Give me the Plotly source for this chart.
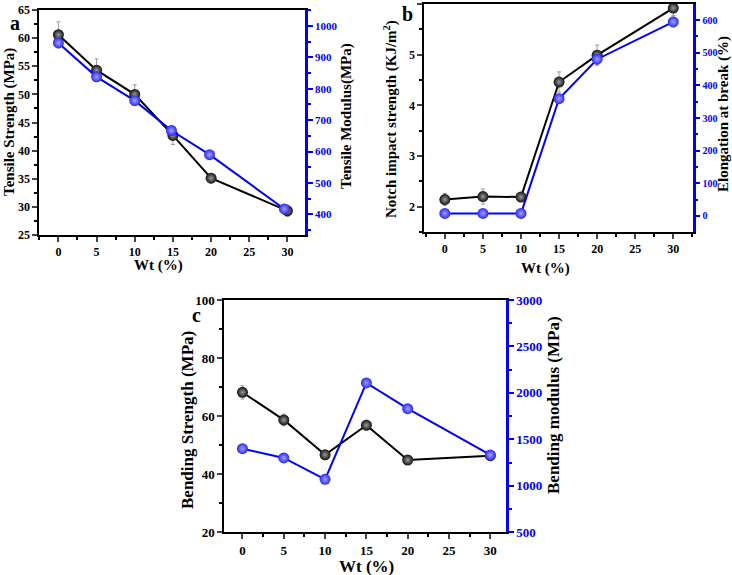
import plotly.graph_objects as go

W, H = 732, 575

# ---------------- data ----------------
wt = [0, 5, 10, 15, 20, 30]
wt_blue_a = [0, 5, 10, 14.8, 19.8, 29.6]

tensile_strength = [60.6, 54.3, 50.0, 42.7, 35.1, 29.3]
tensile_strength_err = [2.3, 2.0, 1.7, 1.6, 0.8, 1.0]
tensile_modulus = [946, 838, 762, 667, 590, 417]
tensile_modulus_err = [15, 15, 15, 12, 12, 10]

notch_impact = [2.14, 2.20, 2.19, 4.46, 4.99, 5.92]
notch_impact_err = [0.12, 0.15, 0.03, 0.20, 0.20, 0.15]
elongation = [8, 8, 8, 359, 480, 594]
elongation_err = [3, 3, 3, 10, 15, 15]

bending_strength = [68.2, 58.7, 46.7, 56.9, 44.9, 46.4]
bending_strength_err = [2.3, 2.0, 1.5, 1.7, 1.0, 1.5]
bending_modulus = [1400, 1300, 1070, 2107, 1830, 1332]
bending_modulus_err = [20, 20, 20, 20, 20, 20]

x_ticks = [0, 5, 10, 15, 20, 25, 30]

FONT = "Liberation Serif"
BLUE = "#0000ff"
BLACK = "#000000"
ERRC = "#9a9a9a"


def px(x):
    return x / W


def py(y):
    return 1 - y / H


fig = go.Figure()


def add_pair(xs_k, yk, ek, xs_b, yb, eb, xa, ya_l, ya_r):
    fig.add_trace(go.Scatter(
        x=xs_b, y=yb, mode="lines+markers", xaxis=xa, yaxis=ya_r,
        line=dict(color=BLUE, width=2),
        marker=dict(size=11, color="#2a2af0",
                    gradient=dict(type="radial", color="#a0a0ff"),
                    line=dict(width=0)),
        error_y=dict(type="data", array=eb, color=ERRC, thickness=1, width=2),
        showlegend=False))
    fig.add_trace(go.Scatter(
        x=xs_k, y=yk, mode="lines+markers", xaxis=xa, yaxis=ya_l,
        line=dict(color=BLACK, width=2),
        marker=dict(size=11, color="#111111",
                    gradient=dict(type="radial", color="#9a9a9a"),
                    line=dict(width=0)),
        error_y=dict(type="data", array=ek, color=ERRC, thickness=1, width=2),
        showlegend=False))


add_pair(wt, tensile_strength, tensile_strength_err,
         wt_blue_a, tensile_modulus, tensile_modulus_err, "x", "y", "y2")
add_pair(wt, notch_impact, notch_impact_err,
         wt, elongation, elongation_err, "x2", "y3", "y4")
add_pair(wt, bending_strength, bending_strength_err,
         wt, bending_modulus, bending_modulus_err, "x3", "y5", "y6")


def xaxis(dom, yanchor, rng, fs):
    return dict(domain=dom, anchor=yanchor, range=rng, automargin=False,
                tickvals=x_ticks, ticks="outside", ticklen=5, tickwidth=2,
                showline=True, linecolor=BLACK, linewidth=2, mirror=True,
                showgrid=False, zeroline=False,
                tickfont=dict(family=FONT, size=fs, color=BLACK, weight="bold"),
                minor=dict(dtick=2.5, ticks="outside", ticklen=3, tickwidth=1.5,
                           tickcolor=BLACK, showgrid=False))


def ylaxis(dom, xanchor, rng, dtick, fs):
    return dict(domain=dom, anchor=xanchor, range=rng, dtick=dtick,
                automargin=False,
                ticks="outside", ticklen=5, tickwidth=2,
                showline=True, linecolor=BLACK, linewidth=2,
                showgrid=False, zeroline=False,
                tickfont=dict(family=FONT, size=fs, color=BLACK, weight="bold"),
                minor=dict(dtick=dtick / 2, ticks="outside", ticklen=3,
                           tickwidth=1.5, tickcolor=BLACK, showgrid=False))


def yraxis(over, xanchor, rng, tick0, dtick, fs):
    return dict(overlaying=over, anchor=xanchor, side="right", range=rng,
                tick0=tick0, dtick=dtick, automargin=False,
                ticks="outside", ticklen=5, tickwidth=2, tickcolor=BLUE,
                showline=True, linecolor=BLUE, linewidth=2.5,
                showgrid=False, zeroline=False,
                tickfont=dict(family=FONT, size=fs, color=BLUE, weight="bold"),
                minor=dict(dtick=dtick / 2, ticks="outside", ticklen=3,
                           tickwidth=1.5, tickcolor=BLUE, showgrid=False))


dom_a_x = [px(39.3), px(305)]
dom_a_y = [py(235), py(10)]
dom_b_x = [px(424.3), px(692.7)]
dom_b_y = [py(232), py(4)]
dom_c_x = [px(224.3), px(506)]
dom_c_y = [py(532.3), py(300)]

fig.update_layout(
    width=W, height=H,
    margin=dict(l=0, r=0, t=0, b=0, autoexpand=False),
    paper_bgcolor="white", plot_bgcolor="white",
    xaxis=xaxis(dom_a_x, "y", [-2.5, 32.3], 12),
    yaxis=ylaxis(dom_a_y, "x", [25, 65], 5, 12),
    yaxis2=yraxis("y", "x", [334, 1051], 400, 100, 11),
    xaxis2=xaxis(dom_b_x, "y3", [-2.7, 32.55], 12),
    yaxis3=ylaxis(dom_b_y, "x2", [1.5, 6], 1, 12),
    yaxis4=yraxis("y3", "x2", [-49, 649], 0, 100, 10),
    xaxis3=xaxis(dom_c_x, "y5", [-2.2, 31.9], 13),
    yaxis5=ylaxis(dom_c_y, "x3", [20, 100], 20, 13),
    yaxis6=yraxis("y5", "x3", [500, 3000], 500, 500, 13),
)

annots = [
    # panel letters
    ("a", 15, 23, 0, 20),
    ("b", 408, 14, 0, 20),
    ("c", 196, 315, 0, 20),
    # panel a titles
    ("Wt (%)", 158, 265, 0, 15),
    ("Tensile Strength (MPa)", 9, 122, -90, 15),
    ("Tensile Modulus(MPa)", 346, 116, -90, 15),
    # panel b titles
    ("Wt (%)", 545, 268, 0, 15),
    ("Notch impact strength (KJ/m<sup>2</sup>)", 390, 119, -90, 15),
    ("Elongation at break (%)", 723, 114, -90, 15),
    # panel c titles
    ("Wt (%)", 366, 566, 0, 17),
    ("Bending Strength (MPa)", 187, 420, -90, 17),
    ("Bending modulus (MPa)", 553, 405, -90, 17),
]
for text, x, y, ang, fs in annots:
    fig.add_annotation(text=text, x=px(x), y=py(y), xref="paper", yref="paper",
                       showarrow=False, textangle=ang, xanchor="center",
                       yanchor="middle",
                       font=dict(family=FONT, size=fs, color=BLACK, weight="bold"))

fig.write_html(
    "out.html",
    config={"displayModeBar": False},
    post_script="document.body.style.margin='0';document.body.style.padding='0';",
)
